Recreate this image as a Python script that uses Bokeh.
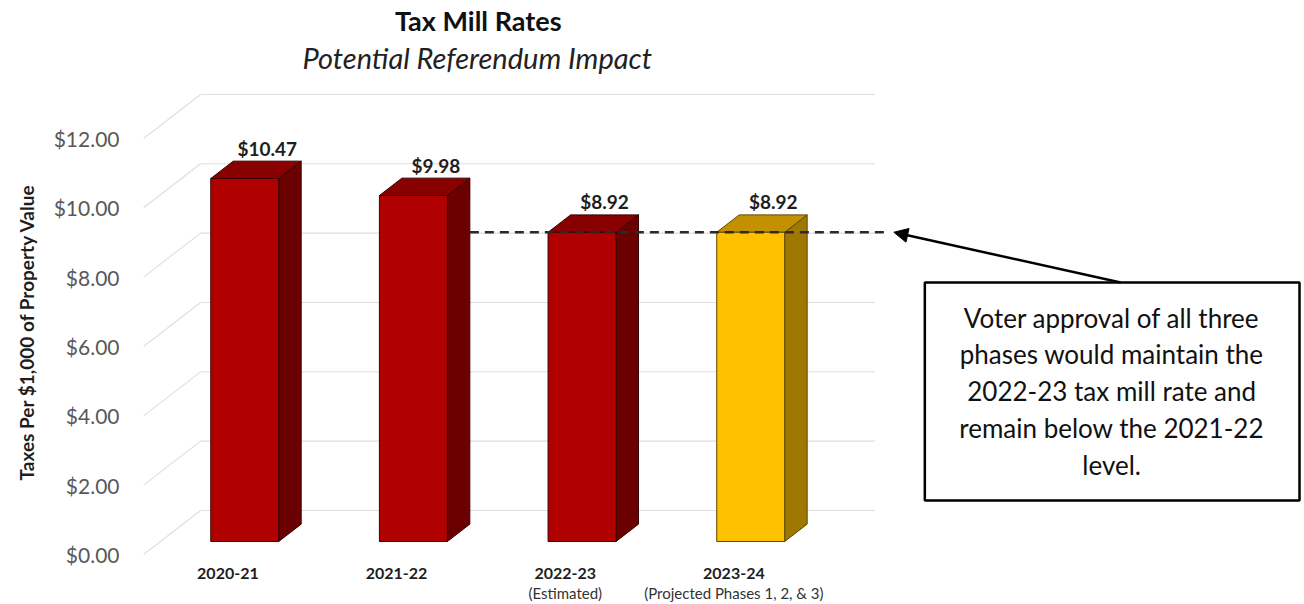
import numpy as np
from bokeh.plotting import figure
from bokeh.models import (Range1d, FixedTicker, NumeralTickFormatter, LinearAxis,
                          Label, Title, Arrow, NormalHead, ColumnDataSource)
from bokeh.core.properties import value
from bokeh.embed import file_html
from bokeh.resources import INLINE

# ---------------- data ----------------
categories = ["2020-21", "2021-22", "2022-23", "2023-24"]
sublabels = ["", "", "(Estimated)", "(Projected Phases 1, 2, & 3)"]
rates = [10.47, 9.98, 8.92, 8.92]
front_colors = ["#b00000", "#b00000", "#b00000", "#ffc000"]
top_colors = ["#880000", "#880000", "#880000", "#c39100"]
side_colors = ["#6a0000", "#6a0000", "#6a0000", "#9e7800"]
edge_colors = ["#3a0000", "#3a0000", "#3a0000", "#5e4700"]
y_ticks = [0, 2, 4, 6, 8, 10, 12]
reference_rate = 8.92
title_text = "Tax Mill Rates"
subtitle_text = "Potential Referendum Impact"
ylabel_text = "Taxes Per $1,000  of Property Value"
note_lines = ["Voter approval of all three",
              "phases would maintain the",
              "2022-23 tax mill rate and",
              "remain below the 2021-22",
              "level."]

FONT = "Lato"

# ---------------- layout (canvas pixels) ----------------
W, H = 1304, 604
LEFT = 140
BOTTOM = 48
FRAME_W = W - LEFT
FRAME_H = H - BOTTOM
PX_PER_CAT = 168.8
PX_PER_DOLLAR = 34.67
CAT0 = 226.5      # canvas x of category 0 (front plane)
ZERO = 554.0      # canvas y of $0 (front plane)

x_start = -(CAT0 - LEFT) / PX_PER_CAT
x_end = x_start + FRAME_W / PX_PER_CAT
y_start = -(FRAME_H - ZERO) / PX_PER_DOLLAR
y_end = y_start + FRAME_H / PX_PER_DOLLAR


def rx(px):  # canvas x -> data x
    return (px - CAT0) / PX_PER_CAT


def ry(py):  # canvas y -> data y
    return (ZERO - py) / PX_PER_DOLLAR


# 3D depth projection
DX = 57 / PX_PER_CAT
DY = 44 / PX_PER_DOLLAR
T1, T2 = 0.295, 0.69
HALF_W = 34 / PX_PER_CAT
X_LO, X_HI = -0.5, 3.5

p = figure(width=W, height=H, x_range=Range1d(x_start, x_end),
           y_range=Range1d(y_start, y_end), output_backend="svg",
           toolbar_location=None, min_border_left=LEFT, min_border_right=0,
           min_border_top=0, min_border_bottom=BOTTOM)
p.outline_line_color = None
p.grid.visible = False
p.background_fill_color = "white"
p.border_fill_color = "white"

# gridlines: left side wall diagonals + back wall horizontals
gx = [[X_LO, X_LO + DX, X_HI + DX] for _ in y_ticks]
gy = [[t, t + DY, t + DY] for t in y_ticks]
p.multi_line(gx, gy, line_color="#dedede", line_width=1.1)

# bars
idx = np.arange(len(rates))
v = np.array(rates)
ox1, oy1 = T1 * DX, T1 * DY
ox2, oy2 = T2 * DX, T2 * DY
L = idx - HALF_W
R = idx + HALF_W

side_xs = [[r + ox1, r + ox2, r + ox2, r + ox1] for r in R]
side_ys = [[oy1, oy2, h + oy2, h + oy1] for h in v]
top_xs = [[l + ox1, r + ox1, r + ox2, l + ox2] for l, r in zip(L, R)]
top_ys = [[h + oy1, h + oy1, h + oy2, h + oy2] for h in v]

p.patches(xs=side_xs, ys=side_ys, fill_color=side_colors, line_color=edge_colors, line_width=1)
p.patches(xs=top_xs, ys=top_ys, fill_color=top_colors, line_color=edge_colors, line_width=1)
p.quad(left=L + ox1, right=R + ox1, bottom=oy1, top=v + oy1,
       fill_color=front_colors, line_color=edge_colors, line_width=1)

# value labels
lab_src = ColumnDataSource(dict(x=idx + ox2, y=v + oy2 + 13 / PX_PER_DOLLAR,
                                t=[f"${r:.2f}" for r in rates]))
p.text(x="x", y="y", text="t", source=lab_src, text_font=value(FONT),
       text_font_size="19px", text_font_style="bold", text_align="center",
       text_baseline="middle", text_color="#1e1e1e")

# dashed reference line
p.line(x=[1 + HALF_W + ox2, rx(885)], y=[reference_rate + oy1] * 2,
       line_color="#2a2a2a", line_width=2.5, line_dash="9 6")

# note box
p.quad(left=rx(924), right=rx(1299), top=ry(282), bottom=ry(500),
       fill_color="white", line_color="black", line_width=2.5)
note_src = ColumnDataSource(dict(x=[rx(1111)] * len(note_lines),
                                 y=[ry(317 + 36.8 * k) for k in range(len(note_lines))],
                                 t=note_lines))
p.text(x="x", y="y", text="t", source=note_src, text_font=value(FONT),
       text_font_size="26px", text_align="center", text_baseline="middle",
       text_color="#111111")

p.add_layout(Arrow(end=NormalHead(size=14, fill_color="black", line_color="black"),
                   x_start=rx(1120), y_start=ry(282), x_end=rx(893),
                   y_end=reference_rate + oy1, line_width=2.5, line_color="black"))

# titles
p.add_layout(Label(x=rx(477), y=ry(20), text=title_text, text_font=FONT,
                   text_font_size="27px", text_font_style="bold", text_align="center",
                   text_baseline="middle", text_color="#111111"))
p.add_layout(Label(x=rx(476), y=ry(57), text=subtitle_text, text_font=FONT,
                   text_font_size="29px", text_font_style="italic", text_align="center",
                   text_baseline="middle", text_color="#222222"))

# axes
p.yaxis.ticker = FixedTicker(ticks=y_ticks)
p.yaxis.formatter = NumeralTickFormatter(format="$0.00")
p.yaxis.axis_line_color = None
p.yaxis.major_tick_line_color = None
p.yaxis.minor_tick_line_color = None
p.yaxis.major_tick_out = 0
p.yaxis.major_label_standoff = 22
p.yaxis.major_label_text_font = FONT
p.yaxis.major_label_text_font_size = "21px"
p.yaxis.major_label_text_color = "#595959"

p.add_layout(Title(text=ylabel_text, align="left", offset=76, standoff=25,
                   text_font=FONT, text_font_size="19px", text_font_style="bold",
                   text_color="#1e1e1e"), "left")

cat_ticks = [int(i) for i in idx]
p.xaxis.ticker = FixedTicker(ticks=cat_ticks)
p.xaxis.major_label_overrides = {i: c for i, c in zip(cat_ticks, categories)}
p.xaxis.axis_line_color = None
p.xaxis.major_tick_line_color = None
p.xaxis.minor_tick_line_color = None
p.xaxis.major_tick_out = 0
p.xaxis.major_label_standoff = 11
p.xaxis.major_label_text_font = FONT
p.xaxis.major_label_text_font_size = "16px"
p.xaxis.major_label_text_font_style = "bold"
p.xaxis.major_label_text_color = "#1e1e1e"

ax2 = LinearAxis(ticker=FixedTicker(ticks=cat_ticks),
                 major_label_overrides={i: s for i, s in zip(cat_ticks, sublabels)})
ax2.axis_line_color = None
ax2.major_tick_line_color = None
ax2.minor_tick_line_color = None
ax2.major_tick_out = 0
ax2.major_label_standoff = 2
ax2.major_label_text_font = FONT
ax2.major_label_text_font_size = "15px"
ax2.major_label_text_color = "#333333"
p.add_layout(ax2, "below")

open("out.html", "w").write(file_html(p, INLINE))
